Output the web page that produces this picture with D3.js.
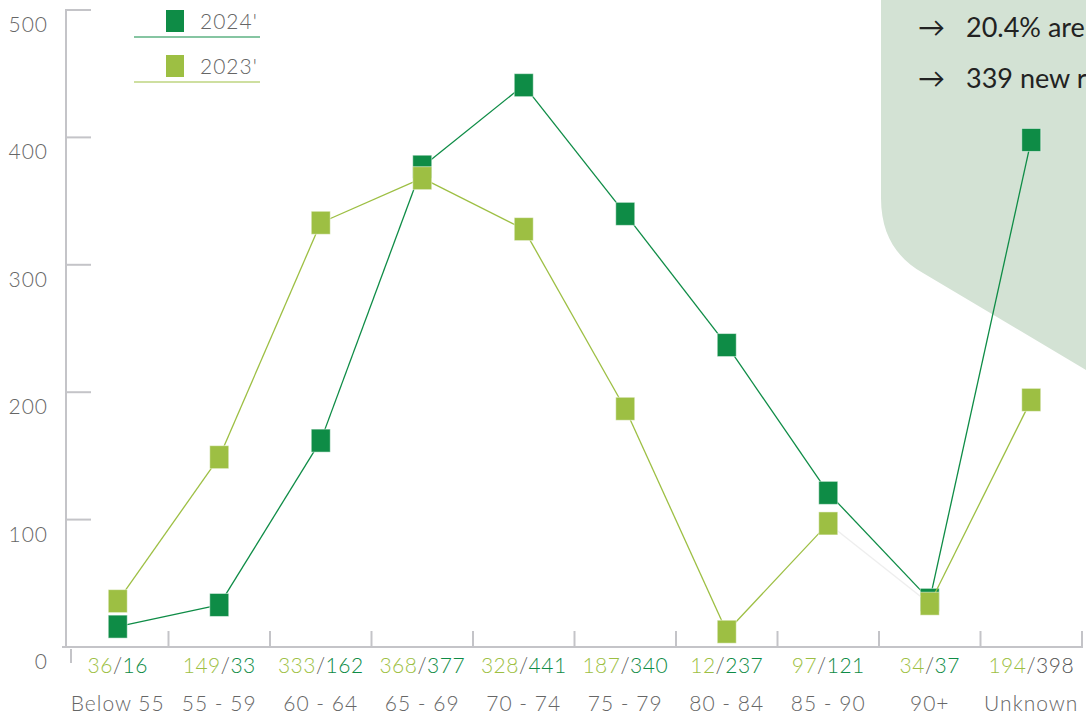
<!DOCTYPE html>
<html>
<head>
<meta charset="utf-8">
<script src="https://cdn.jsdelivr.net/npm/d3@7"></script>
<style>
  html, body { margin: 0; padding: 0; background: #fff; }
  svg { display: block; font-family: Lato, "Open Sans", sans-serif; }
</style>
</head>
<body>
<div id="chart"></div>
<script>
const categories = ['Below 55', '55-59', '60-64', '65-69', '70-74', '75-79', '80-84', '85-90', '90+', 'Unknown'];
const values2023 = [36, 149, 333, 368, 328, 187, 12, 97, 34, 194];
const values2024 = [16, 33, 162, 377, 441, 340, 237, 121, 37, 398];
const yTicks = [0, 100, 200, 300, 400, 500];
const notes = ['20.4% are', '339 new r'];

const colors = { y2024: '#0e8c46', y2023: '#9dbf43', axis: '#c4c4c8', text: '#666', panel: '#d3e2d4' };

const width = 1086, height = 717;
const svg = d3.select('#chart').append('svg')
  .attr('width', width)
  .attr('height', height);

// background note panel
svg.append('path')
  .attr('d', 'M881,0 V198 C881,236 898,259 923,273 L1086,370 V0 Z')
  .attr('fill', colors.panel);

notes.forEach((t, i) => {
  const g = svg.append('text')
    .attr('x', 918)
    .attr('y', 37 + i * 51)
    .attr('fill', '#222')
    .style('font-size', '27px');
  g.append('tspan').text('\u2192');
  g.append('tspan').attr('x', 966).text(t);
});

const x = d3.scaleBand().domain(categories).range([67, 1082]);
const y = d3.scaleLinear().domain([0, 500]).range([647, 10]);
const cx = d => x(d) + x.bandwidth() / 2;

// axes
svg.append('line')
  .attr('x1', 66).attr('x2', 66).attr('y1', y(500) - 1).attr('y2', y(0))
  .attr('stroke', colors.axis).attr('stroke-width', 2);
svg.append('line')
  .attr('x1', 62).attr('x2', x.range()[1] + 1).attr('y1', y(0)).attr('y2', y(0))
  .attr('stroke', colors.axis).attr('stroke-width', 2);
svg.append('line')
  .attr('x1', 71).attr('x2', 71).attr('y1', y(0) + 2).attr('y2', y(0) + 16)
  .attr('stroke', colors.axis).attr('stroke-width', 2);

svg.selectAll('.ytick')
  .data(yTicks.filter(d => d > 0))
  .enter().append('line')
  .attr('x1', 66).attr('x2', 91)
  .attr('y1', d => y(d)).attr('y2', d => y(d))
  .attr('stroke', colors.axis).attr('stroke-width', 2);

svg.selectAll('.ylabel')
  .data(yTicks)
  .enter().append('text')
  .attr('x', 48)
  .attr('y', d => y(d) + 22)
  .attr('text-anchor', 'end')
  .attr('fill', colors.text)
  .style('font-size', '21px')
  .style('font-weight', 300)
  .style('letter-spacing', '1px')
  .text(d => d);

svg.selectAll('.xtick')
  .data(categories)
  .enter().append('line')
  .attr('x1', d => x(d) + x.bandwidth())
  .attr('x2', d => x(d) + x.bandwidth())
  .attr('y1', y(0) - 16).attr('y2', y(0))
  .attr('stroke', colors.axis).attr('stroke-width', 2);

// value labels under axis
const valLabels = svg.selectAll('.vlabel')
  .data(categories)
  .enter().append('text')
  .attr('x', d => cx(d))
  .attr('y', 673)
  .attr('text-anchor', 'middle')
  .style('font-size', '21px')
  .style('font-weight', 300)
  .style('letter-spacing', '0.5px');
valLabels.append('tspan').attr('fill', colors.y2023).text((d, i) => values2023[i]);
valLabels.append('tspan').attr('fill', '#555').text('/');
valLabels.append('tspan')
  .attr('fill', (d, i) => d === 'Unknown' ? '#555' : colors.y2024)
  .text((d, i) => values2024[i]);

svg.selectAll('.xlabel')
  .data(categories)
  .enter().append('text')
  .attr('x', d => cx(d))
  .attr('y', 711)
  .attr('text-anchor', 'middle')
  .attr('fill', colors.text)
  .style('font-size', '21px')
  .style('font-weight', 300)
  .style('letter-spacing', '1px')
  .text(d => d.replace('-', ' - '));

// legend
const legend = [
  { label: "2024'", color: colors.y2024, y: 21 },
  { label: "2023'", color: colors.y2023, y: 66 }
];
legend.forEach(l => {
  svg.append('rect')
    .attr('x', 166).attr('y', l.y - 11).attr('width', 18).attr('height', 22)
    .attr('fill', l.color);
  svg.append('text')
    .attr('x', 200).attr('y', l.y + 8)
    .attr('fill', colors.text)
    .style('font-size', '21px')
    .style('font-weight', 300)
    .style('letter-spacing', '1px')
    .text(l.label);
  svg.append('line')
    .attr('x1', 134).attr('x2', 260)
    .attr('y1', l.y + 16).attr('y2', l.y + 16)
    .attr('stroke', l.color).attr('stroke-width', 1.2);
});

// series: 2024 first, 2023 on top
const series = [
  { values: values2024, color: colors.y2024, faint: [] },
  { values: values2023, color: colors.y2023, faint: [7] }
];

series.forEach(s => {
  const pts = categories.map((c, i) => [cx(c), y(s.values[i])]);
  const segs = d3.pairs(pts);
  svg.append('g').selectAll('line')
    .data(segs)
    .enter().append('line')
    .attr('x1', d => d[0][0]).attr('y1', d => d[0][1])
    .attr('x2', d => d[1][0]).attr('y2', d => d[1][1])
    .attr('stroke', (d, i) => s.faint.includes(i) ? '#eeeeee' : s.color)
    .attr('stroke-width', 1.3);
  svg.append('g').selectAll('rect')
    .data(pts)
    .enter().append('rect')
    .attr('x', d => d[0] - 9.5)
    .attr('y', d => d[1] - 11.5)
    .attr('width', 19)
    .attr('height', 23)
    .attr('fill', s.color)
    .attr('stroke', 'rgba(255,255,255,0.5)')
    .attr('stroke-width', 1);
});
</script>
</body>
</html>
